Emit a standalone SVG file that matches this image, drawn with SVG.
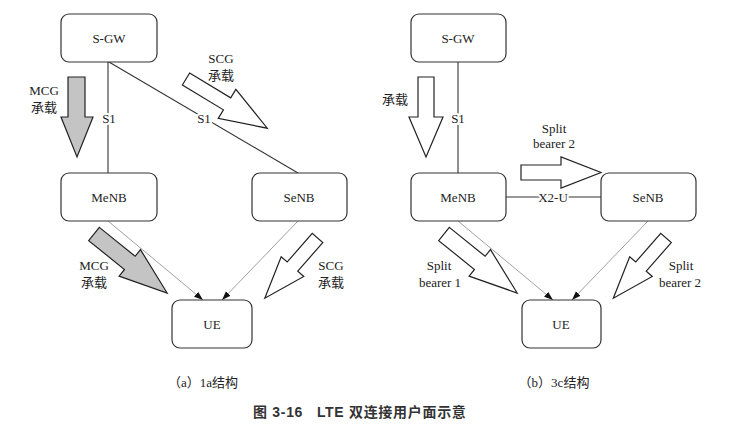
<svg xmlns="http://www.w3.org/2000/svg" width="747" height="439" viewBox="0 0 747 439">
<style>
.box{fill:#fff;stroke:#333;stroke-width:1.2}
.lbl{font-family:"Liberation Serif","Noto Sans CJK SC",serif;font-size:13px;fill:#222;text-anchor:middle}
.elbl{font-family:"Liberation Serif","Noto Sans CJK SC",serif;font-size:13px;fill:#222;text-anchor:middle;stroke:#fff;stroke-width:4;paint-order:stroke}
.line{stroke:#333;stroke-width:1.1;fill:none}
.thin{stroke:#777;stroke-width:0.7;fill:none;marker-end:url(#ah)}
.arW{fill:#fff;stroke:#222;stroke-width:1.2;stroke-linejoin:miter}
.arG{fill:#c4c4c4;stroke:#222;stroke-width:1.2}
.title{font-family:"Liberation Sans","Noto Sans CJK SC",sans-serif;font-size:14px;font-weight:bold;fill:#333;letter-spacing:0.7px}
</style>
<defs>
<marker id="ah" viewBox="0 0 10 10" refX="10" refY="5" markerWidth="9" markerHeight="9" markerUnits="userSpaceOnUse" orient="auto">
<path d="M0,1.5 L10,5 L0,8.5 z" fill="#111"/>
</marker>
</defs>
<rect width="747" height="439" fill="#fff"/>

<g id="connectors">
<line class="line" x1="108" y1="62" x2="108" y2="173"/>
<line class="line" x1="109" y1="62" x2="298" y2="173"/>
<line class="thin" x1="108" y1="221" x2="203" y2="300"/>
<line class="thin" x1="298" y1="221" x2="222" y2="300"/>
<line class="line" x1="458" y1="62" x2="458" y2="173"/>
<line class="line" x1="506" y1="197" x2="601" y2="197"/>
<line class="thin" x1="458" y1="221" x2="553" y2="300"/>
<line class="thin" x1="648" y1="221" x2="572" y2="300"/>
<text class="elbl" x="109" y="123">S1</text>
<text class="elbl" x="204" y="123">S1</text>
<text class="elbl" x="458" y="123">S1</text>
<text class="elbl" x="553" y="202">X2-U</text>
</g>

<g id="a-sgw"><rect class="box" x="61" y="14" width="96" height="48" rx="8"/><text class="lbl" x="109" y="43">S-GW</text></g>
<g id="a-menb"><rect class="box" x="61" y="173" width="96" height="48" rx="8"/><text class="lbl" x="109" y="202">MeNB</text></g>
<g id="a-senb"><rect class="box" x="252" y="173" width="95" height="48" rx="8"/><text class="lbl" x="299" y="202">SeNB</text></g>
<g id="a-ue"><rect class="box" x="172" y="300" width="80" height="48" rx="8"/><text class="lbl" x="212" y="329">UE</text></g>

<g id="b-sgw"><rect class="box" x="411" y="14" width="95" height="48" rx="8"/><text class="lbl" x="458" y="43">S-GW</text></g>
<g id="b-menb"><rect class="box" x="411" y="173" width="95" height="48" rx="8"/><text class="lbl" x="458" y="202">MeNB</text></g>
<g id="b-senb"><rect class="box" x="601" y="173" width="95" height="48" rx="8"/><text class="lbl" x="648" y="202">SeNB</text></g>
<g id="b-ue"><rect class="box" x="522" y="300" width="79" height="48" rx="8"/><text class="lbl" x="561" y="329">UE</text></g>

<g id="a-mcg-top">
<polygon class="arG" points="68,77 85,77 85,117 93,117 77,157 61,117 68,117"/>
<text class="lbl" x="44" y="95">MCG</text><text class="lbl" x="44" y="112">承载</text>
</g>
<g id="a-scg-top">
<polygon class="arW" transform="translate(186,79) rotate(31.2)" points="0,-7 48,-7 48,-17 95,0 48,17 48,7 0,7"/>
<text class="lbl" x="221" y="63">SCG</text><text class="lbl" x="221" y="80">承载</text>
</g>
<g id="a-mcg-low">
<polygon class="arG" transform="translate(94,234) rotate(38.9)" points="0,-8.5 46,-8.5 46,-17 94,0 46,17 46,8.5 0,8.5"/>
<text class="lbl" x="94" y="270">MCG</text><text class="lbl" x="94" y="287">承载</text>
</g>
<g id="a-scg-low">
<polygon class="arW" transform="translate(317.5,238) rotate(131.2)" points="0,-7 38,-7 38,-15 80,0 38,15 38,7 0,7"/>
<text class="lbl" x="331" y="270">SCG</text><text class="lbl" x="331" y="287">承载</text>
</g>

<g id="b-bearer-top">
<polygon class="arW" points="418,77 434,77 434,117 443,117 426,157 409,117 418,117"/>
<text class="lbl" x="395" y="104">承载</text>
</g>
<g id="b-split2-top">
<polygon class="arW" points="521,165 561,165 561,157 601,172.5 561,188 561,180 521,180"/>
<text class="lbl" x="554" y="133">Split</text><text class="lbl" x="554" y="148">bearer 2</text>
</g>
<g id="b-split1-low">
<polygon class="arW" transform="translate(444,234) rotate(38.9)" points="0,-8.5 46,-8.5 46,-17 94,0 46,17 46,8.5 0,8.5"/>
<text class="lbl" x="439" y="270">Split</text><text class="lbl" x="440" y="287">bearer 1</text>
</g>
<g id="b-split2-low">
<polygon class="arW" transform="translate(666,238) rotate(131.2)" points="0,-7 38,-7 38,-15 80,0 38,15 38,7 0,7"/>
<text class="lbl" x="681" y="270">Split</text><text class="lbl" x="680" y="287">bearer 2</text>
</g>

<text class="lbl" x="203" y="387">（a）1a结构</text>
<text class="lbl" x="554" y="387">（b）3c结构</text>
<text class="title" x="253" y="417" xml:space="preserve">图 3-16   LTE 双连接用户面示意</text>
</svg>
